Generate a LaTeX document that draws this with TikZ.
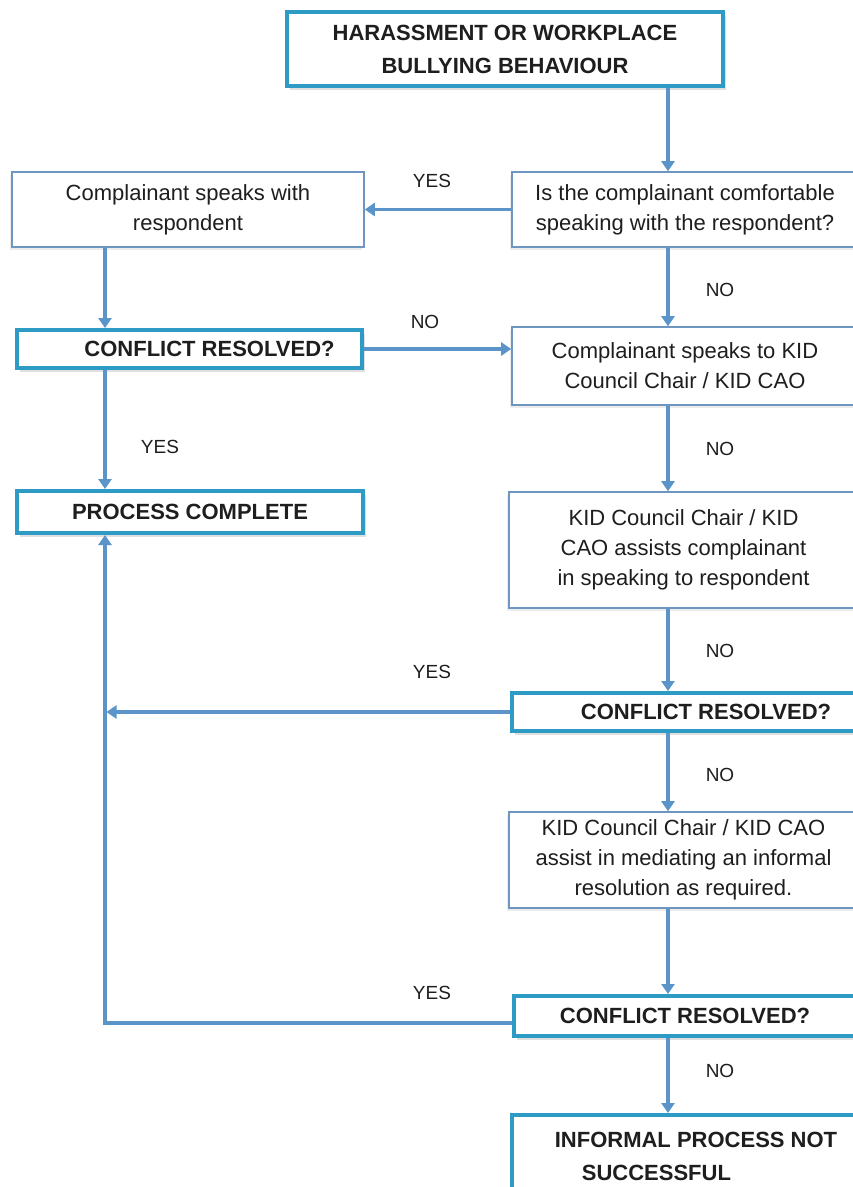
\documentclass[tikz,border=0pt]{standalone}
\usepackage{fontspec}
\setmainfont{Liberation Sans}
\usetikzlibrary{arrows.meta,shadows}
\definecolor{thickc}{RGB}{45,155,195}
\definecolor{thinc}{RGB}{110,150,192}
\definecolor{arrc}{RGB}{90,148,200}
\definecolor{txtc}{RGB}{30,30,30}
\begin{document}
\begin{tikzpicture}[x=1pt,y=-1pt,
  every node/.style={text=txtc, font=\fontsize{22}{30}\selectfont},
  plainbox/.style={draw=thinc, line width=1.6pt, fill=white, align=center, inner sep=0pt,
    drop shadow={shadow xshift=-2pt, shadow yshift=-2.5pt, opacity=0.15}},
  boldbox/.style={draw=thickc, line width=4pt, fill=white, align=center, inner sep=0pt,
    font=\fontsize{22}{33}\selectfont\bfseries,
    drop shadow={shadow xshift=3pt, shadow yshift=-4pt, opacity=0.25}},
  lbl/.style={font=\fontsize{19}{22}\selectfont},
  arr/.style={draw=arrc, line width=3.2pt, -{Triangle[width=13pt,length=10pt]}}
]
\useasboundingbox (0,0) rectangle (853,1187);
\clip (0,0) rectangle (853,1187);
\fill[white] (0,0) rectangle (853,1187);

\node[boldbox, minimum width=436pt, minimum height=74pt] (top) at (505,49)
  {HARASSMENT OR WORKPLACE\\BULLYING BEHAVIOUR};
\node[plainbox, minimum width=346pt, minimum height=75pt] (isbox) at (685,209.5)
  {Is the complainant comfortable\\speaking with the respondent?};
\node[plainbox, minimum width=352pt, minimum height=75pt] (csw) at (188,209.5)
  {Complainant speaks with\\respondent};
\node[boldbox, minimum width=345pt, minimum height=38pt] (cr1) at (189.5,349)
  {\hspace*{40pt}CONFLICT RESOLVED?};
\node[plainbox, minimum width=346pt, minimum height=78pt] (cskid) at (685,366)
  {Complainant speaks to KID\\Council Chair / KID CAO};
\node[boldbox, minimum width=346pt, minimum height=42pt] (pc) at (190,512)
  {PROCESS COMPLETE};
\node[plainbox, minimum width=349pt, minimum height=116pt] (kidassist) at (683.5,550)
  {KID Council Chair / KID\\CAO assists complainant\\in speaking to respondent};
\node[boldbox, minimum width=344pt, minimum height=38pt] (cr2) at (684,712)
  {\hspace*{44pt}CONFLICT RESOLVED?};
\node[plainbox, minimum width=349pt, minimum height=96pt] (mediate) at (683.5,860)
  {KID Council Chair / KID CAO\\assist in mediating an informal\\resolution as required.};
\node[boldbox, minimum width=342pt, minimum height=40pt] (cr3) at (685,1016)
  {CONFLICT RESOLVED?};
\node[boldbox, minimum width=344pt, minimum height=83pt, align=left] (inf) at (684,1156.5)
  {\hspace*{24pt}INFORMAL PROCESS NOT\\\hspace*{51pt}SUCCESSFUL};

\coordinate (rx) at (668,0);
\coordinate (lx) at (105,0);

\draw[arr] (top.south -| rx) -- (isbox.north -| rx);
\draw[arr] (isbox.west) -- (csw.east);
\draw[arr] (csw.south -| lx) -- (cr1.north -| lx);
\draw[arr] (cr1.east) -- (cr1.east -| cskid.west);
\draw[arr] (isbox.south -| rx) -- (cskid.north -| rx);
\draw[arr] (cr1.south -| lx) -- (pc.north -| lx);
\draw[arr] (cskid.south -| rx) -- (kidassist.north -| rx);
\draw[arr] (kidassist.south -| rx) -- (cr2.north -| rx);
\draw[arr] (cr2.west) -- ([xshift=1.5pt]cr2.west -| lx);
\draw[arr] (cr2.south -| rx) -- (mediate.north -| rx);
\draw[arr] (mediate.south -| rx) -- (cr3.north -| rx);
\coordinate (c3) at ([yshift=-7pt]cr3.west);
\draw[arr] (c3) -- (c3 -| lx) -- (pc.south -| lx);
\draw[arr] (cr3.south -| rx) -- (inf.north -| rx);

\node[lbl] (y1) at (432,181) {YES};
\node[lbl] (n1) at (720,290) {NO};
\node[lbl] (n2) at (425,322) {NO};
\node[lbl] (y2) at (160,447) {YES};
\node[lbl] (n3) at (720,449) {NO};
\node[lbl] (n4) at (720,651) {NO};
\node[lbl] (y3) at (432,672) {YES};
\node[lbl] (n5) at (720,775) {NO};
\node[lbl] (y4) at (432,993) {YES};
\node[lbl] (n6) at (720,1071) {NO};
\end{tikzpicture}
\end{document}
